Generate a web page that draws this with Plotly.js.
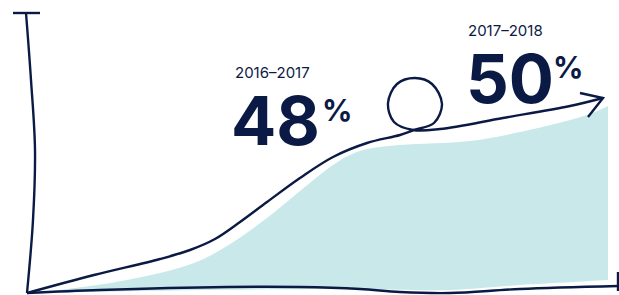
<!DOCTYPE html>
<html>
<head>
<meta charset="utf-8">
<script src="https://cdn.plot.ly/plotly-3.0.1.min.js"></script>
<style>html,body{margin:0;padding:0;background:#fff;}#chart{width:619px;height:295px;}</style>
</head>
<body>
<div id="chart"></div>
<script>
// Illustrative chart: points are on a 619 x 295 canvas scale
const navy = "#0b1a45";
const fillColor = "#c9e8ea";

const periods = ["2016–2017", "2017–2018"];
const shares = [48, 50];

// Shaded area: lower and upper edges
const areaBottomX = [32, 200, 350, 450, 520, 608];
const areaBottomY = [293, 290, 289, 290, 285, 280];
const areaTopX = [32, 60, 127, 194, 227, 267, 300, 333, 350, 367, 400, 470, 520, 587, 608];
const areaTopY = [293, 290, 280, 263, 246, 218, 191, 165, 155, 149, 145, 141, 132, 115, 106];

// Growth line with loop
const lineX = [27, 94, 160, 190, 215, 240, 267, 300, 333, 367, 400, 414, 434, 442, 432, 415, 397, 388, 394, 413, 440, 503, 570, 603];
const lineY = [293, 275, 259, 250, 239, 222, 202, 178, 157, 143, 135, 130, 123, 104, 84, 78, 84, 103, 122, 130, 129, 118, 106, 98];

// Arrow head
const headX = [580, 603, 588];
const headY = [93, 98, 117];

// Vertical axis stroke and cap
const vAxisX = [26, 31, 35, 33, 27];
const vAxisY = [13, 80, 150, 220, 293];
const capX = [13, 40];
const capY = [13, 13];

// Horizontal axis stroke and end tick
const hAxisX = [27, 100, 227, 300, 360, 400, 450, 520, 618];
const hAxisY = [293, 290, 287, 287, 289, 292, 293, 289, 286];
const endX = [618, 618];
const endY = [272, 291];

const traces = [
  {x: areaBottomX, y: areaBottomY, mode: "lines",
   line: {width: 0, color: fillColor, shape: "spline", smoothing: 0.8}, hoverinfo: "skip"},
  {x: areaTopX, y: areaTopY, mode: "lines", fill: "tonexty", fillcolor: fillColor,
   line: {width: 0, color: fillColor, shape: "spline", smoothing: 1}, hoverinfo: "skip"},
  {x: vAxisX, y: vAxisY, mode: "lines", line: {color: navy, width: 2.4, shape: "spline"}, hoverinfo: "skip"},
  {x: capX, y: capY, mode: "lines", line: {color: navy, width: 2.4}, hoverinfo: "skip"},
  {x: hAxisX, y: hAxisY, mode: "lines", line: {color: navy, width: 2.4, shape: "spline"}, hoverinfo: "skip"},
  {x: endX, y: endY, mode: "lines", line: {color: navy, width: 2.4}, hoverinfo: "skip"},
  {x: lineX, y: lineY, mode: "lines", line: {color: navy, width: 2.4, shape: "spline", smoothing: 1}, hoverinfo: "skip"},
  {x: headX, y: headY, mode: "lines", line: {color: navy, width: 2.4}, hoverinfo: "skip"}
];

const font = "Inter, 'DejaVu Sans', sans-serif";
const layout = {
  width: 619, height: 295,
  margin: {l: 0, r: 0, t: 0, b: 0},
  paper_bgcolor: "#fff", plot_bgcolor: "#fff",
  showlegend: false,
  xaxis: {range: [0, 619], visible: false, fixedrange: true},
  yaxis: {range: [295, 0], visible: false, fixedrange: true},
  annotations: [
    {x: 233, y: 72, xanchor: "left", yanchor: "middle", text: periods[0], showarrow: false,
     font: {family: font, size: 15, color: navy}},
    {x: 229, y: 120, xanchor: "left", yanchor: "middle", height: 60, valign: "middle",
     text: "<b>" + shares[0] + "</b>", showarrow: false,
     font: {family: font, size: 67, color: navy, weight: 800}},
    {x: 320, y: 110, xanchor: "left", yanchor: "middle", text: "<b>%</b>", showarrow: false,
     font: {family: font, size: 30, color: navy}},
    {x: 466, y: 30, xanchor: "left", yanchor: "middle", text: periods[1], showarrow: false,
     font: {family: font, size: 15, color: navy}},
    {x: 464, y: 78, xanchor: "left", yanchor: "middle", height: 60, valign: "middle",
     text: "<b>" + shares[1] + "</b>", showarrow: false,
     font: {family: font, size: 67, color: navy, weight: 800}},
    {x: 551, y: 67, xanchor: "left", yanchor: "middle", text: "<b>%</b>", showarrow: false,
     font: {family: font, size: 30, color: navy}}
  ]
};

Plotly.newPlot("chart", traces, layout, {displayModeBar: false, staticPlot: true});
</script>
</body>
</html>
